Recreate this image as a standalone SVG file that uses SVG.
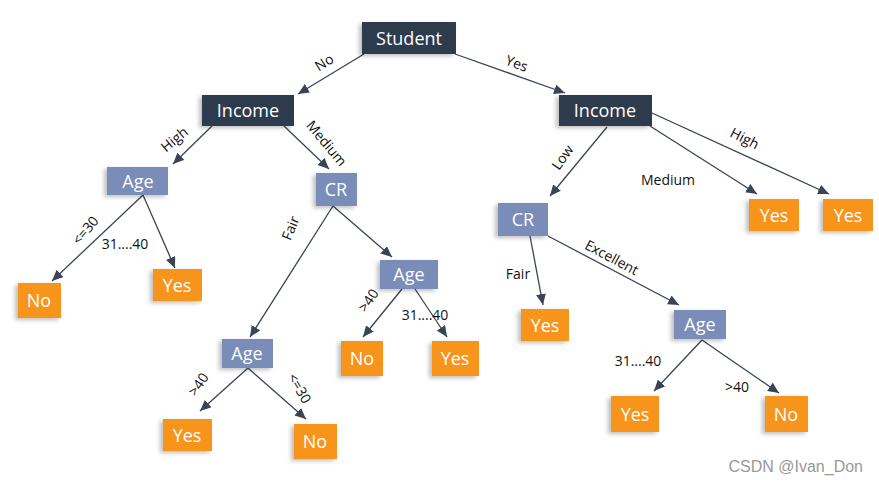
<svg xmlns="http://www.w3.org/2000/svg" width="879" height="485" viewBox="0 0 879 485">
<defs>
<filter id="sh" x="-30%" y="-30%" width="160%" height="160%">
<feDropShadow dx="-3" dy="2" stdDeviation="2" flood-color="#000" flood-opacity="0.25"/>
</filter>
<marker id="ar" markerUnits="userSpaceOnUse" markerWidth="12" markerHeight="10" refX="11" refY="5" orient="auto">
<path d="M0,0 L11,5 L0,10 Z" fill="#3a4456"/>
</marker>
<style>
.dark{fill:#2e3a4e;filter:url(#sh)}
.blue{fill:#7a8cb8;filter:url(#sh)}
.org{fill:#f7941d;filter:url(#sh)}
.nt{font-family:"Open Sans","Noto Sans",sans-serif;font-size:18px;fill:#fff;text-anchor:middle;dominant-baseline:central}
.e{stroke:#3a4456;stroke-width:1.3;fill:none;marker-end:url(#ar)}
.lb{font-family:"Open Sans","Noto Sans",sans-serif;font-size:14px;fill:#111;text-anchor:middle;dominant-baseline:central}
</style>
</defs>
<rect width="879" height="485" fill="#fff"/>
<g id="connectors">
<line class="e" x1="364" y1="54" x2="298" y2="94"/>
<line class="e" x1="455" y1="54" x2="565" y2="93"/>
<line class="e" x1="212" y1="126" x2="173" y2="164"/>
<line class="e" x1="284" y1="126" x2="329" y2="169"/>
<line class="e" x1="143" y1="195" x2="52" y2="281"/>
<line class="e" x1="143" y1="195" x2="175" y2="268"/>
<line class="e" x1="333" y1="206" x2="392" y2="257"/>
<line class="e" x1="333" y1="206" x2="250" y2="337"/>
<line class="e" x1="402" y1="289" x2="363" y2="337"/>
<line class="e" x1="415" y1="289" x2="447" y2="337"/>
<line class="e" x1="248" y1="368" x2="200" y2="411"/>
<line class="e" x1="248" y1="368" x2="306" y2="419"/>
<line class="e" x1="607" y1="127" x2="550" y2="196"/>
<line class="e" x1="650" y1="126" x2="757" y2="194"/>
<line class="e" x1="652" y1="113" x2="829" y2="194"/>
<line class="e" x1="530" y1="236" x2="543" y2="305"/>
<line class="e" x1="548" y1="236" x2="679" y2="305"/>
<line class="e" x1="702" y1="340" x2="654" y2="391"/>
<line class="e" x1="702" y1="340" x2="779" y2="393"/>
</g>
<g id="labels">
<text class="lb" transform="translate(324,62) rotate(-32)">No</text>
<text class="lb" transform="translate(517,63) rotate(20)">Yes</text>
<text class="lb" transform="translate(174,139) rotate(-40)">High</text>
<text class="lb" transform="translate(327,143) rotate(50)">Medium</text>
<text class="lb" transform="translate(85,230) rotate(-50)">&lt;=30</text>
<text class="lb" x="125" y="243">31....40</text>
<text class="lb" transform="translate(290,228) rotate(-68)">Fair</text>
<text class="lb" transform="translate(368,300) rotate(-55)">&gt;40</text>
<text class="lb" x="425" y="314">31....40</text>
<text class="lb" transform="translate(198,384) rotate(-55)">&gt;40</text>
<text class="lb" transform="translate(300,388) rotate(60)">&lt;=30</text>
<text class="lb" transform="translate(562,157) rotate(-55)">Low</text>
<text class="lb" x="668" y="179">Medium</text>
<text class="lb" transform="translate(745,138) rotate(27)">High</text>
<text class="lb" x="518" y="273">Fair</text>
<text class="lb" transform="translate(612,257) rotate(28)">Excellent</text>
<text class="lb" x="638" y="360">31....40</text>
<text class="lb" x="737" y="386">&gt;40</text>
</g>
<g id="student"><rect class="dark" x="362" y="22" width="94" height="32"/><text class="nt" x="409" y="38">Student</text></g>
<g id="income-l"><rect class="dark" x="202" y="95" width="92" height="31"/><text class="nt" x="248" y="110">Income</text></g>
<g id="income-r"><rect class="dark" x="559" y="95" width="93" height="31"/><text class="nt" x="605" y="110">Income</text></g>
<g id="age-1"><rect class="blue" x="107" y="167" width="61" height="28"/><text class="nt" x="138" y="181">Age</text></g>
<g id="cr-l"><rect class="blue" x="316" y="173" width="41" height="33"/><text class="nt" x="336" y="189">CR</text></g>
<g id="no-1"><rect class="org" x="18" y="283" width="43" height="35"/><text class="nt" x="39" y="300">No</text></g>
<g id="yes-1"><rect class="org" x="153" y="269" width="49" height="32"/><text class="nt" x="177" y="285">Yes</text></g>
<g id="age-2"><rect class="blue" x="380" y="260" width="58" height="29"/><text class="nt" x="409" y="274">Age</text></g>
<g id="age-3"><rect class="blue" x="222" y="339" width="51" height="29"/><text class="nt" x="247" y="353">Age</text></g>
<g id="no-2"><rect class="org" x="341" y="341" width="42" height="35"/><text class="nt" x="362" y="358">No</text></g>
<g id="yes-2"><rect class="org" x="432" y="341" width="47" height="35"/><text class="nt" x="455" y="358">Yes</text></g>
<g id="yes-3"><rect class="org" x="163" y="419" width="49" height="32"/><text class="nt" x="187" y="435">Yes</text></g>
<g id="no-3"><rect class="org" x="294" y="424" width="43" height="35"/><text class="nt" x="315" y="441">No</text></g>
<g id="cr-r"><rect class="blue" x="498" y="203" width="50" height="33"/><text class="nt" x="523" y="219">CR</text></g>
<g id="yes-4"><rect class="org" x="749" y="199" width="50" height="32"/><text class="nt" x="774" y="215">Yes</text></g>
<g id="yes-5"><rect class="org" x="823" y="199" width="50" height="32"/><text class="nt" x="848" y="215">Yes</text></g>
<g id="yes-6"><rect class="org" x="521" y="309" width="48" height="32"/><text class="nt" x="545" y="325">Yes</text></g>
<g id="age-4"><rect class="blue" x="674" y="310" width="52" height="29"/><text class="nt" x="700" y="324">Age</text></g>
<g id="yes-7"><rect class="org" x="611" y="396" width="48" height="36"/><text class="nt" x="635" y="414">Yes</text></g>
<g id="no-4"><rect class="org" x="765" y="396" width="43" height="36"/><text class="nt" x="786" y="414">No</text></g>
<text x="863" y="472" text-anchor="end" font-family="Liberation Sans, Arial, sans-serif" font-size="16" fill="#999">CSDN @Ivan_Don</text>
</svg>
